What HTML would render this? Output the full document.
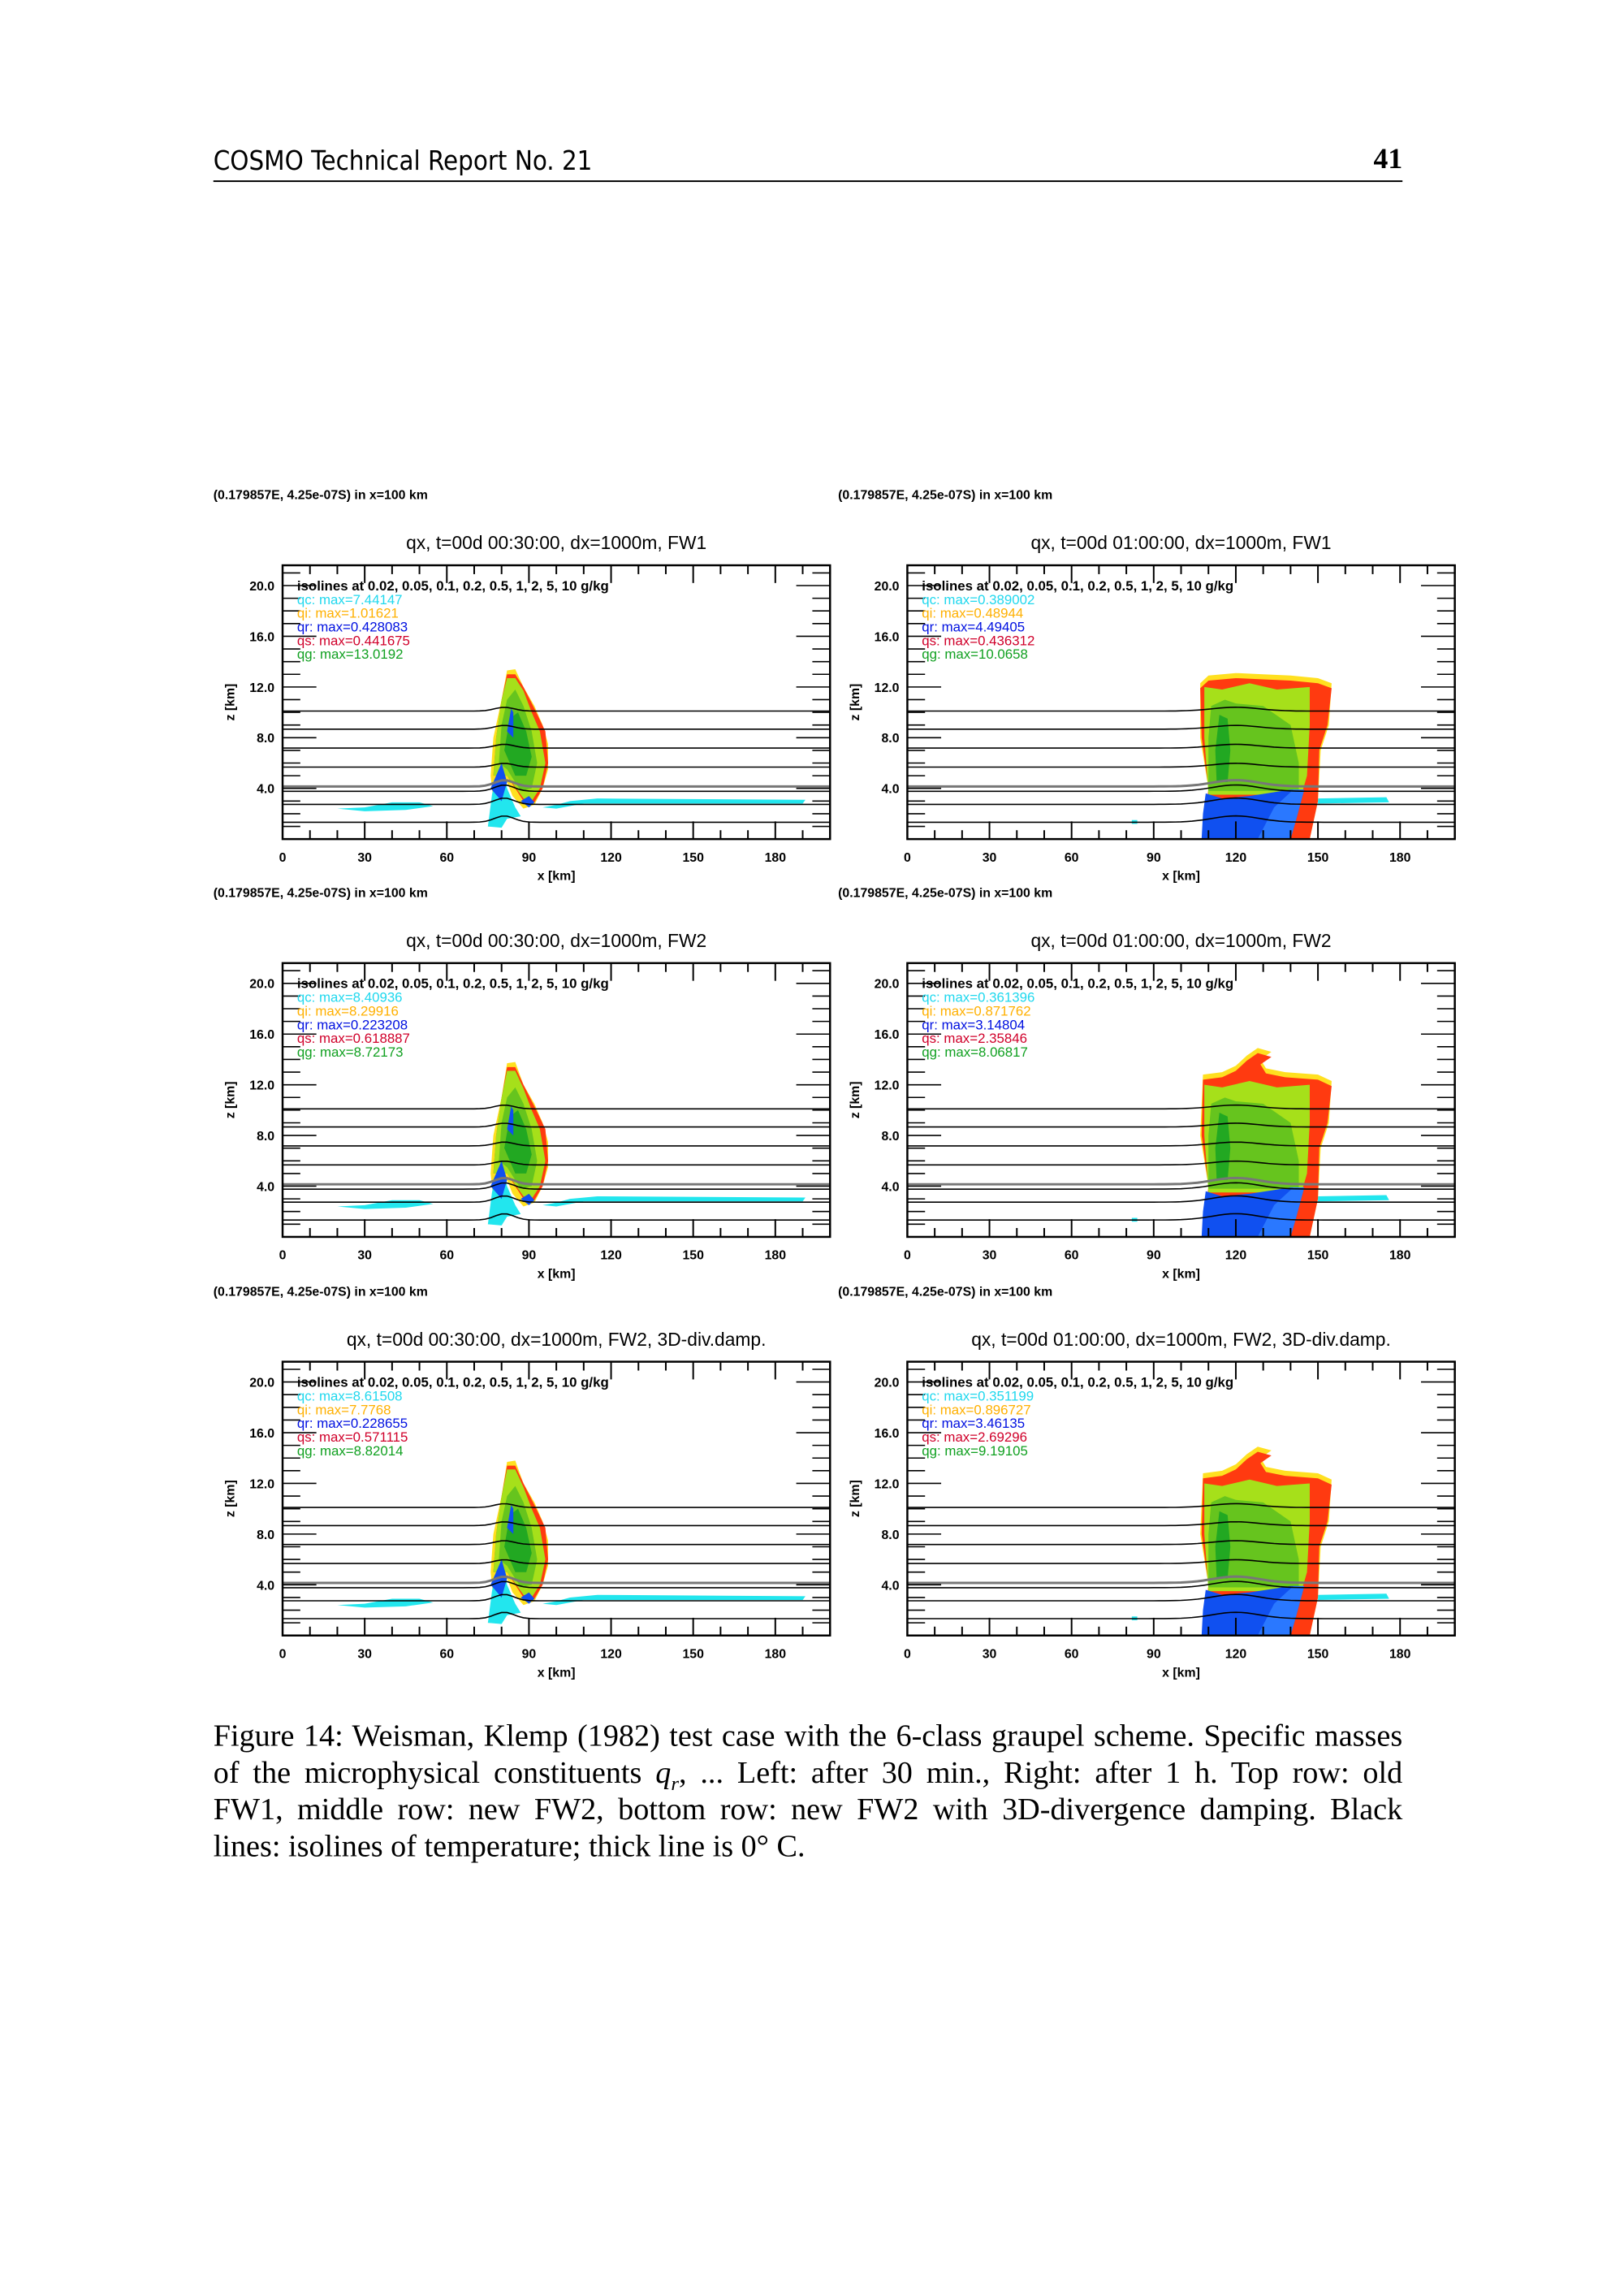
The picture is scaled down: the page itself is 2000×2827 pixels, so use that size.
<!DOCTYPE html>
<html><head><meta charset="utf-8">
<style>
html,body{margin:0;padding:0;background:#fff;}
body{width:2000px;height:2827px;position:relative;overflow:hidden;}
#w{position:absolute;left:0;top:0;width:2000px;height:2827px;transform:scale(0.9915);transform-origin:0 0;}
.hdr{position:absolute;left:265px;top:180px;font-family:"DejaVu Sans Condensed","Liberation Sans Narrow","Liberation Sans",sans-serif;font-size:33px;font-stretch:condensed;}
.pg{position:absolute;left:1690px;top:176px;width:52px;text-align:right;font-family:"Liberation Serif",serif;font-weight:bold;font-size:36px;}
.rule{position:absolute;left:265px;top:224px;width:1477px;height:2px;background:#000;}
.cap{position:absolute;left:265px;width:1477px;font-family:"Liberation Serif",serif;font-size:38.5px;white-space:nowrap;}
.j{text-align:justify;text-align-last:justify;}
svg{position:absolute;left:0;top:0;}
</style></head><body><div id="w">
<div class="hdr">COSMO Technical Report No. 21</div>
<div class="pg">41</div>
<div class="rule"></div>
<svg id="s" width="2000" height="2827" xmlns="http://www.w3.org/2000/svg" font-family="Liberation Sans, sans-serif"></svg>
<div class="cap j" style="top:2134px">Figure 14: Weisman, Klemp (1982) test case with the 6-class graupel scheme. Specific masses</div>
<div class="cap j" style="top:2180px">of the microphysical constituents <i>q<sub style="font-size:25px">r</sub></i>, ... Left: after 30 min., Right: after 1 h. Top row: old</div>
<div class="cap j" style="top:2225px">FW1, middle row: new FW2, bottom row: new FW2 with 3D-divergence damping. Black</div>
<div class="cap" style="top:2271px">lines: isolines of temperature; thick line is 0° C.</div>
</div>
<script>
const S=document.getElementById('s');
const W=680,H=340;
const cols=[351,1127], rows=[702,1196,1691];
const titles=[["qx, t=00d 00:30:00, dx=1000m, FW1","qx, t=00d 01:00:00, dx=1000m, FW1"],
["qx, t=00d 00:30:00, dx=1000m, FW2","qx, t=00d 01:00:00, dx=1000m, FW2"],
["qx, t=00d 00:30:00, dx=1000m, FW2, 3D-div.damp.","qx, t=00d 01:00:00, dx=1000m, FW2, 3D-div.damp."]];
const legs=[[["7.44147","1.01621","0.428083","0.441675","13.0192"],["0.389002","0.48944","4.49405","0.436312","10.0658"]],
[["8.40936","8.29916","0.223208","0.618887","8.72173"],["0.361396","0.871762","3.14804","2.35846","8.06817"]],
[["8.61508","7.7768","0.228655","0.571115","8.82014"],["0.351199","0.896727","3.46135","2.69296","9.19105"]]];
const X=k=>k*W/200, Z=z=>H-z*H/21.6;
const P=(pts)=>'M'+pts.map(p=>X(p[0]).toFixed(1)+','+Z(p[1]).toFixed(1)).join('L')+'Z';
function poly(pts,c){return `<path d="${P(pts)}" fill="${c}"/>`;}
let out='';
const CY='#22e6ee',YE='#ffe020',OR='#ff9a00',RD='#ff3a10',LG='#a6e01a',MG='#66c41e',DG='#22a822',BL='#1050f0',LB='#2a78ff';
function leftStorm(h){
 let s='';
 s+=poly([[20,2.4],[30,2.5],[40,2.9],[50,2.9],[55,2.6],[45,2.3],[30,2.2]],CY);
 s+=poly([[110,2.8],[190,2.8],[191,3.1],[115,3.2],[105,3.0],[100,2.7],[95,2.5],[100,2.4]],CY);
 s+=poly([[75,1],[77,3],[76,5],[77,8],[80,11],[82,h],[85,h+0.1],[88,12],[92,10.5],[95,9],[97,7.5],[97,5.5],[95,4],[92,2.7],[88,2.4],[84,3.4],[82,4.5],[81,2.5],[80,1]],YE);
 s+=poly([[77,5],[78,8],[80,11],[82,h-0.3],[85,h-0.3],[88,12],[92,10.3],[96,8.5],[97,6],[95,4],[92,2.9],[88,3],[82,5]],RD);
 s+=poly([[77,5],[78,8],[80,11],[82,h-0.6],[85,h-0.6],[88,11.7],[91,10],[94,8.5],[96,6],[94,4],[91,3],[88,3.2],[82,5]],LG);
 s+=poly([[79,6],[80,9],[82,11],[85,11.8],[88,10.5],[91,8.5],[93,6],[91,4],[87,3.8],[82,5.5]],MG);
 s+=poly([[81,7],[83,9.5],[86,10],[89,8.5],[91,6.5],[89,5],[85,5]],DG);
 s+=poly([[82,8.5],[83.5,10.3],[84.3,10],[84.3,8]],BL);
 s+=poly([[75,1],[76.5,3.5],[78,5],[80,6],[82,4],[85,2.5],[87,1.8],[82,1.6],[80,0.9]],CY);
 s+=poly([[76,4],[80,6],[82,4.5],[80,3]],BL);
 s+=poly([[87,3],[90,2.5],[92,2.9],[90,3.4]],BL);
 return s;
}
function rightStorm(anvil){
 let s='';
 s+=poly([[150,3.2],[175,3.3],[176,2.9],[150,2.8]],CY);
 let top=anvil?[[108,12.8],[115,13],[120,13.5],[124,14.3],[128,14.9],[133,14.6],[129,14],[131,13.3],[138,13],[150,12.8],[155,12.3]]:[[107,12.3],[110,12.9],[120,13.1],[130,13],[140,12.9],[150,12.7],[155,12.3]];
 s+=poly([[108,0],[110,4],[107,8],...top,[154,9],[151,7],[150,3],[147,0]],YE);
 let t2=top.map(p=>[p[0],p[1]-0.4]);
 s+=poly([[108,0],[110,4],[107.5,8],...t2,[153.5,9],[150.5,7],[150,3],[147,0]],RD);
 s+=poly([[110,3.5],[108.5,8],[108.5,12],[115,11.8],[125,12.3],[135,11.8],[147,12],[147,9],[146,5],[144,3.5]],LG);
 s+=poly([[110,3.8],[110,8],[111,10.5],[116,11],[120,10.7],[130,10.5],[140,9],[143,6],[143,3.8]],MG);
 s+=poly([[113,4.5],[112.5,7],[114,9.8],[117,9.5],[118,7],[117,4.5]],DG);
 s+=poly([[107.5,0],[108,2],[109,3.6],[115,3.2],[125,3.4],[140,3.9],[145,3.9],[142,1.5],[140,0]],BL);
 s+=poly([[128,0],[134,2.5],[141,3.9],[145,3.9],[142,1.5],[140,0]],LB);
 s+=poly([[82,1.2],[84,1.2],[84,1.5],[82,1.5]],CY);
 return s;
}
function isolines(cx,w){
 const zs=[10.1,8.67,7.18,5.68,4.15,3.77,2.74,1.33];
 let s='';
 zs.forEach((z,i)=>{
  let d='';
  for(let k=0;k<=200;k+=2){
   let b=Math.exp(-Math.pow((k-cx)/w,2))*0.5*(i>3?1:0.6);
   d+=(k?'L':'M')+X(k).toFixed(1)+','+Z(z+b).toFixed(1);
  }
  s+=`<path d="${d}" fill="none" stroke="${i==4?'#777':'#000'}" stroke-width="${i==4?3:1.6}"/>`;
 });
 return s;
}
for(let r=0;r<3;r++)for(let c=0;c<2;c++){
 const ox=cols[c], oy=rows[r];
 out+=`<text x="${ox-86}" y="${oy-82}" font-size="16" font-weight="bold">(0.179857E, 4.25e-07S) in x=100 km</text>`;
 out+=`<text x="${ox+W/2}" y="${oy-20}" font-size="23" text-anchor="middle">${titles[r][c]}</text>`;
 out+=`<g transform="translate(${ox},${oy})">`;
 out+= c==0?leftStorm(13.3+(r?0.4:0)):rightStorm(r>0);
 out+= c==0?isolines(81,5):isolines(120,12);
 for(let k=0;k<=200;k+=10){const x=X(k),L=(k%30==0)?22:11;
  out+=`<line x1="${x}" y1="${H}" x2="${x}" y2="${H-L}" stroke="#000" stroke-width="2"/><line x1="${x}" y1="0" x2="${x}" y2="${L}" stroke="#000" stroke-width="2"/>`;}
 for(let z=0;z<=21;z++){const y=Z(z),L=(z%4==0)?42:22;
  out+=`<line x1="0" y1="${y}" x2="${L}" y2="${y}" stroke="#000" stroke-width="1.6"/><line x1="${W}" y1="${y}" x2="${W-L}" y2="${y}" stroke="#000" stroke-width="1.6"/>`;}
 out+=`<rect x="0" y="0" width="${W}" height="${H}" fill="none" stroke="#000" stroke-width="2.5"/>`;
 for(let z=4;z<=20;z+=4) out+=`<text x="-10" y="${Z(z)+6}" font-size="16" font-weight="bold" text-anchor="end">${z}.0</text>`;
 for(let k=0;k<=180;k+=30) out+=`<text x="${X(k)}" y="${H+28}" font-size="16" font-weight="bold" text-anchor="middle">${k}</text>`;
 out+=`<text x="${W/2}" y="${H+51}" font-size="16" font-weight="bold" text-anchor="middle">x [km]</text>`;
 out+=`<text transform="translate(-60,${H/2}) rotate(-90)" font-size="16" font-weight="bold" text-anchor="middle">z [km]</text>`;
 const L=legs[r][c], names=['qc','qi','qr','qs','qg'], cl=['#20d8ee','#ffb000','#0010e0','#d0002a','#10a020'];
 out+=`<text x="18" y="${Z(20)+6}" font-size="17" font-weight="bold">isolines at 0.02, 0.05, 0.1, 0.2, 0.5, 1, 2, 5, 10 g/kg</text>`;
 for(let i=0;i<5;i++) out+=`<text x="18" y="${Z(20)+23+i*17}" font-size="17" fill="${cl[i]}">${names[i]}: max=${L[i]}</text>`;
 out+='</g>';
}
S.innerHTML=out;
</script>
</body></html>
